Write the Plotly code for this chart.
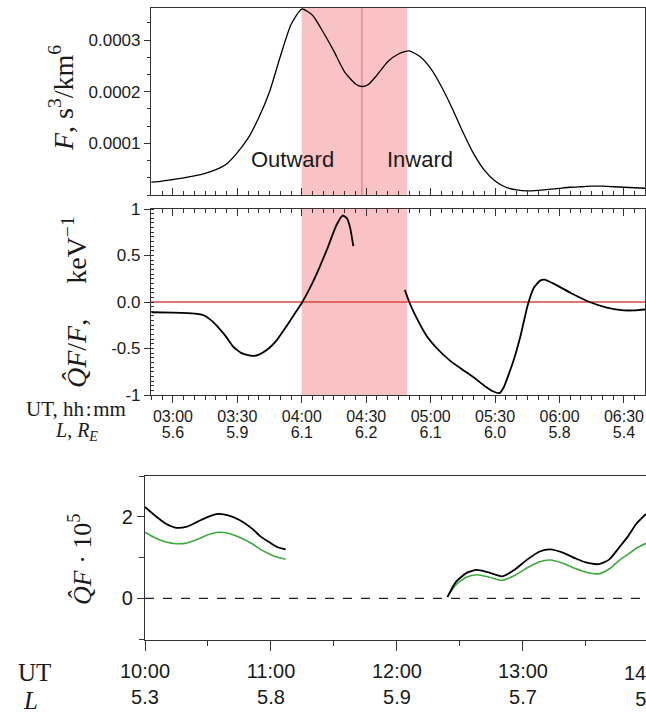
import plotly.graph_objects as go

W, H = 646, 714
D = "2020-01-01 "

# ---------------- data ----------------
f_times = ["02:50", "02:55", "03:00", "03:05", "03:10", "03:15", "03:20", "03:25", "03:30", "03:35",
           "03:40", "03:45", "03:50", "03:55", "04:00", "04:05", "04:10", "04:15", "04:20", "04:25",
           "04:28", "04:31", "04:35", "04:40", "04:45", "04:50", "04:55", "05:00", "05:05", "05:10",
           "05:15", "05:20", "05:25", "05:30", "05:35", "05:40", "05:45", "05:50", "05:55", "06:00",
           "06:05", "06:10", "06:15", "06:20", "06:25", "06:30", "06:35", "06:40"]
f_vals = [0.000025, 0.000027, 0.000030, 0.000033, 0.000037, 0.000042, 0.000049, 0.000060, 0.000082, 0.000110,
          0.000150, 0.000200, 0.000268, 0.000330, 0.000360, 0.000348, 0.000315, 0.000278, 0.000238, 0.000215,
          0.000210, 0.000214, 0.000232, 0.000258, 0.000273, 0.000279, 0.000268, 0.000245, 0.000210, 0.000168,
          0.000122, 0.000080, 0.000048, 0.000027, 0.000015, 0.000010, 0.000008, 0.000009, 0.000011, 0.000013,
          0.000015, 0.000016, 0.000017, 0.000017, 0.000016, 0.000015, 0.000014, 0.000013]

q1_times = ["02:50", "03:00", "03:10", "03:14", "03:18", "03:21", "03:25", "03:28", "03:32", "03:37",
            "03:40", "03:44", "03:48", "03:52", "03:56", "04:00", "04:04", "04:08", "04:12", "04:16",
            "04:19", "04:21", "04:22:30", "04:24"]
q1_vals = [-0.11, -0.115, -0.125, -0.14, -0.2, -0.27, -0.38, -0.48, -0.55, -0.58,
           -0.565, -0.51, -0.42, -0.29, -0.15, -0.01, 0.16, 0.36, 0.58, 0.82,
           0.93, 0.9, 0.8, 0.6]

q2_times = ["04:48", "04:50", "04:53", "04:58", "05:03", "05:09", "05:15", "05:20", "05:25", "05:29",
            "05:32", "05:34", "05:36", "05:39", "05:42", "05:45", "05:48", "05:51", "05:53", "05:57",
            "06:05", "06:14", "06:22", "06:30", "06:35", "06:40"]
q2_vals = [0.13, 0.0, -0.15, -0.36, -0.5, -0.63, -0.73, -0.81, -0.9, -0.96,
           -0.98, -0.92, -0.8, -0.6, -0.35, -0.05, 0.15, 0.23, 0.24, 0.2,
           0.1, 0.0, -0.06, -0.09, -0.09, -0.08]

mid_tick_times = ["03:00", "03:30", "04:00", "04:30", "05:00", "05:30", "06:00", "06:30"]
mid_tick_L = ["5.6", "5.9", "6.1", "6.2", "6.1", "6.0", "5.8", "5.4"]

b1_times = ["10:00", "10:05", "10:10", "10:15", "10:20", "10:25", "10:30", "10:35", "10:40", "10:45",
            "10:51", "10:55", "11:00", "11:03", "11:07"]
b1_black = [2.24, 2.02, 1.83, 1.73, 1.76, 1.88, 2.0, 2.07, 2.03, 1.92, 1.71, 1.52, 1.35, 1.26, 1.2]
b1_green = [1.62, 1.48, 1.38, 1.34, 1.36, 1.45, 1.56, 1.62, 1.59, 1.5, 1.34, 1.2, 1.07, 1.01, 0.96]

b2_times = ["12:24", "12:28", "12:33", "12:38", "12:44", "12:50", "12:56", "13:02", "13:08", "13:13",
            "13:19", "13:25", "13:30", "13:36", "13:41", "13:46", "13:50", "13:54", "13:58:36"]
b2_black = [0.03, 0.4, 0.62, 0.70, 0.63, 0.54, 0.7, 0.95, 1.15, 1.2, 1.12, 0.98, 0.88, 0.84, 0.95,
            1.26, 1.52, 1.83, 2.07]
b2_green = [0.03, 0.33, 0.52, 0.58, 0.52, 0.44, 0.56, 0.75, 0.9, 0.94, 0.86, 0.73, 0.64, 0.6, 0.72,
            0.94, 1.08, 1.23, 1.35]

bot_tick_times = ["10:00", "11:00", "12:00", "13:00"]
bot_tick_L = ["5.3", "5.8", "5.9", "5.7"]
bot_range = ["10:00", "13:58:36"]
bot_extra_time, bot_extra_L = "14:00", "5.3"

shade_start, shade_end, mid_mark = "04:00", "04:49", "04:28"


def T(s):
    return D + s


def mins(s):
    p = [int(v) for v in s.split(":")]
    return p[0] * 60 + p[1] + (p[2] / 60 if len(p) > 2 else 0)


def xd(px):
    return px / W


def yd(py):
    return 1 - py / H


SANS = "Liberation Sans, Arial, sans-serif"
SERIF = "Liberation Serif, Times New Roman, serif"
INK = "#1a1a1a"

fig = go.Figure()

fig.add_trace(go.Scatter(x=[T(t) for t in f_times], y=f_vals, mode="lines",
                         line=dict(color="black", width=1.3, shape="spline", smoothing=0.6),
                         xaxis="x", yaxis="y", showlegend=False))
fig.add_trace(go.Scatter(x=[T(t) for t in q1_times], y=q1_vals, mode="lines",
                         line=dict(color="black", width=1.8, shape="spline", smoothing=0.5),
                         xaxis="x2", yaxis="y2", showlegend=False))
fig.add_trace(go.Scatter(x=[T(t) for t in q2_times], y=q2_vals, mode="lines",
                         line=dict(color="black", width=1.8, shape="spline", smoothing=0.5),
                         xaxis="x2", yaxis="y2", showlegend=False))
# invisible traces to keep the overlay axes of the middle panel alive
for ax in ["x3", "x5"]:
    fig.add_trace(go.Scatter(x=[T("03:00")], y=[0], mode="markers", marker=dict(opacity=0),
                             xaxis=ax, yaxis="y2", showlegend=False, hoverinfo="skip"))

for tt, bb, gg in [(b1_times, b1_black, b1_green), (b2_times, b2_black, b2_green)]:
    fig.add_trace(go.Scatter(x=[T(t) for t in tt], y=gg, mode="lines",
                             line=dict(color="#3daa3d", width=1.6, shape="spline", smoothing=0.6),
                             xaxis="x4", yaxis="y4", showlegend=False))
    fig.add_trace(go.Scatter(x=[T(t) for t in tt], y=bb, mode="lines",
                             line=dict(color="black", width=1.8, shape="spline", smoothing=0.6),
                             xaxis="x4", yaxis="y4", showlegend=False))

xdom = [xd(151), xd(645)]
xrange_top = [T("02:49:48"), T("06:39:48")]
minor5 = 5 * 60 * 1000

common_line = dict(showline=True, linecolor="#333", linewidth=1.2, showgrid=False, zeroline=False,
                   automargin=False)

layout = dict(
    width=W, height=H, margin=dict(l=0, r=0, t=0, b=0, pad=0, autoexpand=False),
    paper_bgcolor="white", plot_bgcolor="white",
    xaxis=dict(domain=xdom, anchor="y", type="date", range=xrange_top,
               tickvals=[T(t) for t in mid_tick_times], showticklabels=False,
               ticks="inside", ticklen=7, tickcolor="#333", mirror=True,
               minor=dict(dtick=minor5, ticks="inside", ticklen=4, tickcolor="#333"),
               **common_line),
    yaxis=dict(domain=[yd(195), yd(8)], anchor="x", range=[0, 0.000362],
               tickvals=[0.0001, 0.0002, 0.0003], ticktext=["0.0001", "0.0002", "0.0003"],
               ticks="outside", ticklen=6, tickcolor="#333", mirror=True,
               minor=dict(dtick=0.0001 / 3, tick0=0, ticks="outside", ticklen=3, tickcolor="#333"),
               tickfont=dict(family=SANS, size=17, color=INK), **common_line),
    xaxis2=dict(domain=xdom, anchor="y2", type="date", range=xrange_top,
                tickvals=[T(t) for t in mid_tick_times], ticktext=mid_tick_times,
                ticks="outside", ticklen=7, tickcolor="#333", mirror=True,
                minor=dict(dtick=minor5, ticks="outside", ticklen=4, tickcolor="#333"),
                tickfont=dict(family=SANS, size=16, color=INK), **common_line),
    xaxis5=dict(overlaying="x2", anchor="y2", side="bottom", type="date", range=xrange_top,
                tickvals=[T(t) for t in mid_tick_times], ticktext=mid_tick_L,
                ticks="", showline=False, showgrid=False, ticklabelstandoff=26,
                tickfont=dict(family=SANS, size=16, color=INK)),
    xaxis3=dict(overlaying="x2", anchor="y2", side="top", type="date", range=xrange_top,
                tickvals=[T(t) for t in mid_tick_times], showticklabels=False,
                ticks="inside", ticklen=7, tickcolor="#333", showline=False, showgrid=False,
                minor=dict(dtick=minor5, ticks="inside", ticklen=4, tickcolor="#333")),
    yaxis2=dict(domain=[yd(395), yd(209)], anchor="x2", range=[-1, 1],
                tickvals=[-1, -0.5, 0, 0.5, 1], ticktext=["-1", "-0.5", "0.0", "0.5", "1"],
                ticks="outside", ticklen=6, tickcolor="#333", mirror=True,
                minor=dict(dtick=0.05, tick0=0, ticks="inside", ticklen=3, tickcolor="#333"),
                tickfont=dict(family=SANS, size=17, color=INK), **common_line),
    xaxis4=dict(domain=[xd(145), 1.0], anchor="y4", type="date",
                range=[T(bot_range[0]), T(bot_range[1])],
                tickvals=[T(t) for t in bot_tick_times],
                ticktext=[f"{t}<br>{l}" for t, l in zip(bot_tick_times, bot_tick_L)],
                ticks="outside", ticklen=10, tickcolor="#333", mirror=True, ticklabelstandoff=3,
                minor=dict(dtick=30 * 60 * 1000, ticks="outside", ticklen=5, tickcolor="#333"),
                tickfont=dict(family=SANS, size=20, color=INK), **common_line),
    yaxis4=dict(domain=[yd(640), yd(476)], anchor="x4", range=[-1.02, 3.0],
                tickvals=[0, 2], ticktext=["0", "2"],
                ticks="outside", ticklen=7, tickcolor="#333",
                minor=dict(dtick=1, tick0=0, ticks="outside", ticklen=5, tickcolor="#333"),
                tickfont=dict(family=SANS, size=20, color=INK), **common_line),
)
fig.update_layout(**layout)

shapes = [
    dict(type="rect", xref="x", yref="y domain", x0=T(shade_start), x1=T(shade_end), y0=0, y1=1,
         fillcolor="#f9c2c4", line=dict(width=0), layer="below"),
    dict(type="rect", xref="x2", yref="y2 domain", x0=T(shade_start), x1=T(shade_end), y0=0, y1=1,
         fillcolor="#f9c2c4", line=dict(width=0), layer="below"),
    dict(type="line", xref="x", yref="y domain", x0=T(mid_mark), x1=T(mid_mark), y0=0, y1=1,
         line=dict(color="#e07c84", width=1.2), layer="below"),
    dict(type="line", xref="x2 domain", yref="y2", x0=0, x1=1, y0=0, y1=0,
         line=dict(color="#d94545", width=1.5), layer="below"),
    dict(type="line", xref="x4 domain", yref="y4", x0=0, x1=1, y0=0, y1=0,
         line=dict(color="#222", width=1.3, dash="dash"), layer="below"),
]
fig.update_layout(shapes=shapes)


def pa(text, px, py, size, family=SERIF, angle=0):
    return dict(text=text, x=xd(px), y=yd(py), xref="paper", yref="paper", showarrow=False,
                xanchor="center", yanchor="middle", textangle=angle,
                font=dict(family=family, size=size, color=INK))


# position of the 14:00 label just past the end of the bottom axis (as a fraction of its domain)
extra_frac = (mins(bot_extra_time) - mins(bot_range[0])) / (mins(bot_range[1]) - mins(bot_range[0]))

ann = [
    dict(text="Outward", x=T("03:55:40"), y=0.000069, xref="x", yref="y", showarrow=False,
         xanchor="center", yanchor="middle", font=dict(family=SANS, size=22, color=INK)),
    dict(text="Inward", x=T("04:54:50"), y=0.000069, xref="x", yref="y", showarrow=False,
         xanchor="center", yanchor="middle", font=dict(family=SANS, size=22, color=INK)),
    pa("<i>F</i>, s<sup>3</sup>/km<sup>6</sup>", 62, 98, 28, angle=-90),
    pa("<i>Q\u0302F</i>/<i>F</i>,&nbsp;&nbsp;&nbsp;&nbsp;&nbsp;keV<sup>\u22121</sup>", 74, 302, 28, angle=-90),
    pa("UT, hh\u200a:\u200amm", 76, 409, 21),
    pa("<i>L</i>, <i>R<sub>E</sub></i>", 76, 431, 20),
    pa("<i>Q\u0302F</i> \u00b7 10<sup>5</sup>", 80, 560, 26, angle=-90),
    pa("UT", 34, 672, 25),
    pa("<i>L</i>", 30, 700, 25),
    dict(text=f"{bot_extra_time}<br>{bot_extra_L}", x=extra_frac, y=yd(660), xref="x4 domain",
         yref="paper", xanchor="center", yanchor="top", showarrow=False,
         font=dict(family=SANS, size=20, color=INK)),
]
fig.update_layout(annotations=ann)

fig.write_html("out.html", config={"displayModeBar": False},
               post_script="document.body.style.margin='0';document.body.style.padding='0';"
                           "document.documentElement.style.overflow='hidden';")
